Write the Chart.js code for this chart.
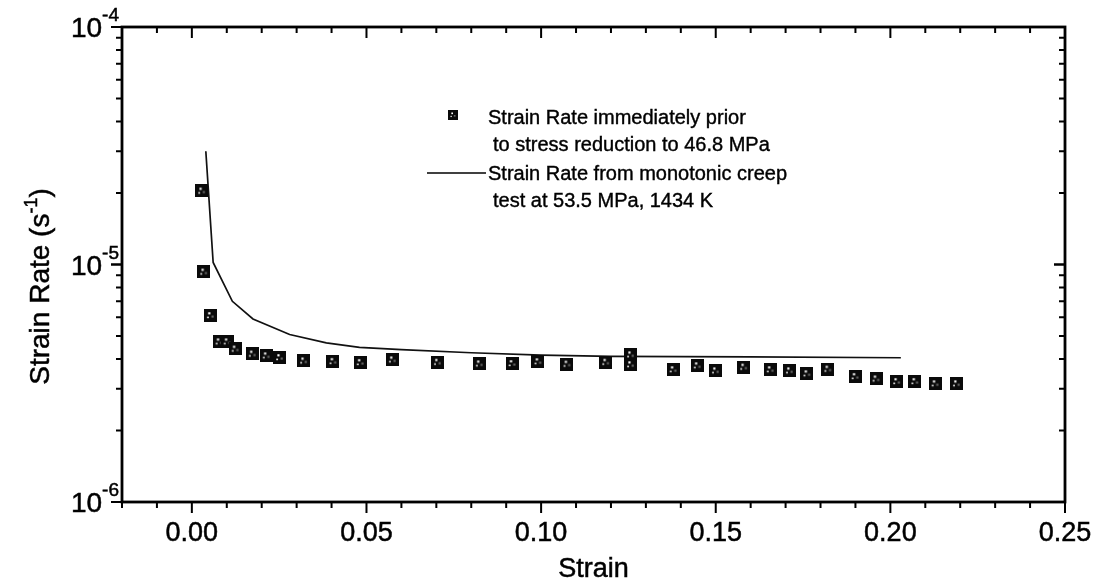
<!DOCTYPE html>
<html>
<head>
<meta charset="utf-8">
<script src="https://cdn.jsdelivr.net/npm/chart.js@4/dist/chart.umd.min.js"></script>
<style>
  html, body { margin: 0; padding: 0; background: #fff; }
  #wrap { width: 1100px; height: 582px; position: relative; }
</style>
</head>
<body>
<div id="wrap"><canvas id="chart"></canvas></div>
<script>
// strain rate just before each stress reduction (squares)
const priorStrain = [0.0028, 0.0034, 0.0053, 0.0078, 0.0101, 0.0124, 0.0173, 0.0213, 0.0251, 0.032,
    0.0404, 0.0482, 0.0574, 0.0703, 0.0823, 0.0917, 0.0991, 0.1074, 0.1185, 0.1256, 0.1256,
    0.1378, 0.1447, 0.1499, 0.158, 0.1656, 0.1711, 0.1761, 0.1821, 0.1899, 0.1959, 0.2018,
    0.207, 0.2128, 0.2189];
const priorRate = [2.04e-5, 9.3e-6, 6.1e-6, 4.73e-6, 4.73e-6, 4.41e-6, 4.2e-6, 4.13e-6, 4.06e-6, 3.93e-6,
    3.91e-6, 3.87e-6, 3.97e-6, 3.88e-6, 3.82e-6, 3.83e-6, 3.9e-6, 3.81e-6, 3.88e-6, 4.17e-6, 3.79e-6,
    3.61e-6, 3.75e-6, 3.57e-6, 3.70e-6, 3.61e-6, 3.57e-6, 3.47e-6, 3.63e-6, 3.38e-6, 3.30e-6, 3.22e-6,
    3.22e-6, 3.15e-6, 3.15e-6];

// monotonic creep test (line)
const creepStrain = [0.004, 0.0061, 0.0116, 0.0175, 0.028, 0.0385, 0.048, 0.06, 0.08, 0.10, 0.12, 0.16, 0.203];
const creepRate = [3.0e-5, 1.02e-5, 7.0e-6, 5.9e-6, 5.07e-6, 4.68e-6, 4.48e-6, 4.38e-6, 4.25e-6, 4.15e-6, 4.1e-6, 4.08e-6, 4.05e-6];

// axis ticks
const xMajorTicks = [0, 0.05, 0.10, 0.15, 0.20, 0.25];
const xTickLabels = ['0.00', '0.05', '0.10', '0.15', '0.20', '0.25'];
const yMajorExp = [-6, -5, -4];
const yTickLabels = ['-6', '-5', '-4'];

const FONT = '"Liberation Sans", Arial, sans-serif';

// square marker with a few light specks, like the scanned symbol
function makeMarker(size) {
    const c = document.createElement('canvas');
    c.width = size; c.height = size;
    const g = c.getContext('2d');
    g.fillStyle = '#0a0a0a';
    g.fillRect(0, 0, size, size);
    g.fillStyle = '#fff';
    const u = size / 12;
    g.fillRect(4 * u, 3 * u, 2 * u, 2 * u);
    g.fillRect(3 * u, 7 * u, 1.5 * u, 1.5 * u);
    g.fillStyle = '#666';
    g.fillRect(7 * u, 6 * u, 2 * u, 2 * u);
    return c;
}
const marker = makeMarker(13);
const legendMarker = makeMarker(10);

// text with a hair of stroke so it reads as heavy as the scan
function inkText(ctx, s, x, y) {
    ctx.fillText(s, x, y);
    ctx.strokeText(s, x, y);
}

const framePlugin = {
    id: 'frame',
    afterDraw(chart) {
        const ctx = chart.ctx;
        const a = chart.chartArea;
        const xs = chart.scales.x;
        const ys = chart.scales.y;
        ctx.save();
        ctx.strokeStyle = '#000';
        ctx.fillStyle = '#000';

        // frame
        ctx.lineWidth = 2.8;
        ctx.strokeRect(a.left, a.top, a.right - a.left, a.bottom - a.top);

        // x ticks: outward at bottom, inward at top
        ctx.lineWidth = 2;
        for (let i = -2; i <= 25; i++) {
            const v = i / 100;
            const px = xs.getPixelForValue(v);
            const len = (i % 5 === 0) ? 11 : 6;
            ctx.beginPath();
            ctx.moveTo(px, a.bottom); ctx.lineTo(px, a.bottom + len);
            ctx.moveTo(px, a.top); ctx.lineTo(px, a.top + len);
            ctx.stroke();
        }
        // y ticks: outward at left, inward at right
        for (let e = -6; e <= -5; e++) {
            for (let k = 1; k <= 10; k++) {
                const py = ys.getPixelForValue(k * Math.pow(10, e));
                const len = (k === 1 || k === 10) ? 11 : 6;
                ctx.beginPath();
                ctx.moveTo(a.left, py); ctx.lineTo(a.left - len, py);
                ctx.moveTo(a.right, py); ctx.lineTo(a.right - len, py);
                ctx.stroke();
            }
        }

        ctx.lineWidth = 0.5;
        // x tick labels
        ctx.font = '27px ' + FONT;
        ctx.textAlign = 'center';
        ctx.textBaseline = 'alphabetic';
        xMajorTicks.forEach((v, i) => {
            inkText(ctx, xTickLabels[i], xs.getPixelForValue(v), 541);
        });

        // y tick labels 10^n
        yMajorExp.forEach((e, i) => {
            const py = ys.getPixelForValue(Math.pow(10, e));
            ctx.font = '19px ' + FONT;
            ctx.textAlign = 'right';
            const supW = ctx.measureText(yTickLabels[i]).width;
            inkText(ctx, yTickLabels[i], a.left - 3, py - 6);
            ctx.font = '28px ' + FONT;
            inkText(ctx, '10', a.left - 3 - supW, py + 10);
        });

        // axis titles
        ctx.font = '27px ' + FONT;
        ctx.textAlign = 'center';
        inkText(ctx, 'Strain', (a.left + a.right) / 2, 577);

        ctx.save();
        ctx.translate(49, (a.top + a.bottom) / 2 + 22);
        ctx.rotate(-Math.PI / 2);
        ctx.textAlign = 'left';
        const main = 'Strain Rate (s';
        const sup = '-1';
        ctx.font = '28px ' + FONT;
        const w1 = ctx.measureText(main).width;
        ctx.font = '18px ' + FONT;
        const w2 = ctx.measureText(sup).width;
        ctx.font = '28px ' + FONT;
        const w3 = ctx.measureText(')').width;
        const start = -(w1 + w2 + w3) / 2;
        inkText(ctx, main, start, 0);
        ctx.font = '18px ' + FONT;
        inkText(ctx, sup, start + w1, -12);
        ctx.font = '28px ' + FONT;
        inkText(ctx, ')', start + w1 + w2, 0);
        ctx.restore();

        // legend
        ctx.font = '20px ' + FONT;
        ctx.textAlign = 'left';
        ctx.lineWidth = 0.4;
        ctx.drawImage(legendMarker, 448, 110, 10, 10);
        inkText(ctx, 'Strain Rate immediately prior', 488, 124);
        inkText(ctx, 'to stress reduction to 46.8 MPa', 493, 151);
        inkText(ctx, 'Strain Rate from monotonic creep', 488, 180);
        inkText(ctx, 'test at 53.5 MPa, 1434 K', 493, 207);
        ctx.lineWidth = 1.5;
        ctx.beginPath();
        ctx.moveTo(427, 173); ctx.lineTo(486, 173);
        ctx.stroke();

        ctx.restore();
    }
};

new Chart(document.getElementById('chart'), {
    type: 'scatter',
    data: {
        datasets: [
            {
                label: 'Strain Rate immediately prior to stress reduction to 46.8 MPa',
                data: priorStrain.map((x, i) => ({ x: x, y: priorRate[i] })),
                pointStyle: marker,
                pointRadius: 6.5,
                showLine: false
            },
            {
                label: 'Strain Rate from monotonic creep test at 53.5 MPa, 1434 K',
                data: creepStrain.map((x, i) => ({ x: x, y: creepRate[i] })),
                showLine: true,
                borderColor: '#111',
                borderWidth: 1.7,
                pointRadius: 0,
                tension: 0
            }
        ]
    },
    options: {
        responsive: true,
        maintainAspectRatio: false,
        animation: false,
        layout: { padding: { left: 122, right: 35, top: 27, bottom: 80 } },
        plugins: {
            legend: { display: false },
            tooltip: { enabled: false }
        },
        scales: {
            x: { type: 'linear', min: -0.02, max: 0.25, display: false },
            y: { type: 'logarithmic', min: 1e-6, max: 1e-4, display: false }
        }
    },
    plugins: [framePlugin]
});
</script>
</body>
</html>
